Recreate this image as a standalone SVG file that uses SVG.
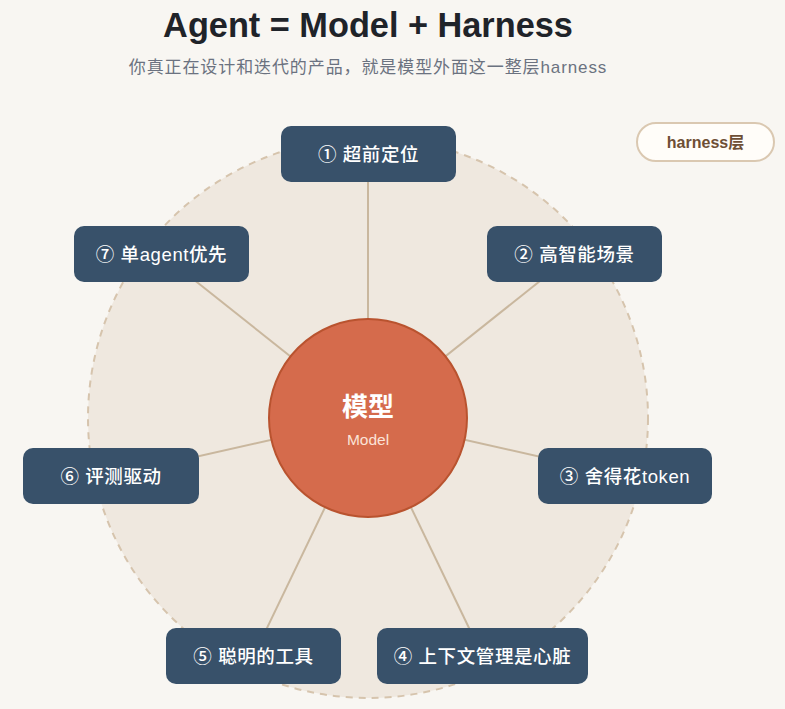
<svg xmlns="http://www.w3.org/2000/svg" width="785" height="709" viewBox="0 0 785 709">
  <style>
    .t { font-family: "Liberation Sans", "Noto Sans CJK SC", sans-serif; }
    .node rect { fill: #38516a; }
    .node text { fill: #ffffff; font-size: 18.5px; font-weight: 500; letter-spacing: 0.6px; text-anchor: middle; dominant-baseline: central; }
    .conn line { stroke: #c9b79e; stroke-width: 2; }
  </style>
  <rect x="0" y="0" width="785" height="709" fill="#f8f6f2"/>
  <g id="harness-ring">
    <circle cx="368" cy="418" r="280" fill="#efe8df" stroke="#d6c4ad" stroke-width="2" stroke-dasharray="7 6"/>
  </g>
  <g id="connectors" class="conn">
    <line x1="368" y1="418" x2="368" y2="154"/>
    <line x1="368" y1="418" x2="574.5" y2="253.5"/>
    <line x1="368" y1="418" x2="625" y2="476"/>
    <line x1="368" y1="418" x2="482.5" y2="656"/>
    <line x1="368" y1="418" x2="253.5" y2="656"/>
    <line x1="368" y1="418" x2="111" y2="476"/>
    <line x1="368" y1="418" x2="161.5" y2="254"/>
  </g>
  <g id="model">
    <circle cx="368" cy="418" r="99" fill="#d56b4c" stroke="#b9532f" stroke-width="2"/>
    <text class="t" x="368" y="416" text-anchor="middle" font-size="26" font-weight="bold" fill="#ffffff">模型</text>
    <text class="t" x="368" y="445" text-anchor="middle" font-size="15.5" fill="#fbe3d8">Model</text>
  </g>
  <g id="node1" class="node">
    <rect x="281" y="126" width="175" height="56" rx="10"/>
    <text class="t" x="368.5" y="154">① 超前定位</text>
  </g>
  <g id="node2" class="node">
    <rect x="487" y="226" width="175" height="56" rx="10"/>
    <text class="t" x="574.5" y="254">② 高智能场景</text>
  </g>
  <g id="node3" class="node">
    <rect x="538" y="448" width="174" height="56" rx="10"/>
    <text class="t" x="625" y="476">③ 舍得花token</text>
  </g>
  <g id="node4" class="node">
    <rect x="377" y="628" width="211" height="56" rx="10"/>
    <text class="t" x="482.5" y="656">④ 上下文管理是心脏</text>
  </g>
  <g id="node5" class="node">
    <rect x="166" y="628" width="175" height="56" rx="10"/>
    <text class="t" x="253.5" y="656">⑤ 聪明的工具</text>
  </g>
  <g id="node6" class="node">
    <rect x="23" y="448" width="176" height="56" rx="10"/>
    <text class="t" x="111" y="476">⑥ 评测驱动</text>
  </g>
  <g id="node7" class="node">
    <rect x="74" y="226" width="175" height="56" rx="10"/>
    <text class="t" x="161.5" y="254">⑦ 单agent优先</text>
  </g>
  <g id="legend">
    <rect x="637" y="123" width="137" height="38" rx="19" fill="#fffdf9" stroke="#dac8b1" stroke-width="2"/>
    <text class="t" x="705.5" y="142" text-anchor="middle" dominant-baseline="central" font-size="16" font-weight="bold" fill="#6e4f35">harness层</text>
  </g>
  <g id="title">
    <text class="t" x="368" y="37" text-anchor="middle" font-size="34.3" font-weight="bold" fill="#1f2329">Agent = Model + Harness</text>
    <text class="t" x="368" y="73" text-anchor="middle" font-size="17" letter-spacing="0.9" fill="#6b7280">你真正在设计和迭代的产品，就是模型外面这一整层harness</text>
  </g>
</svg>
